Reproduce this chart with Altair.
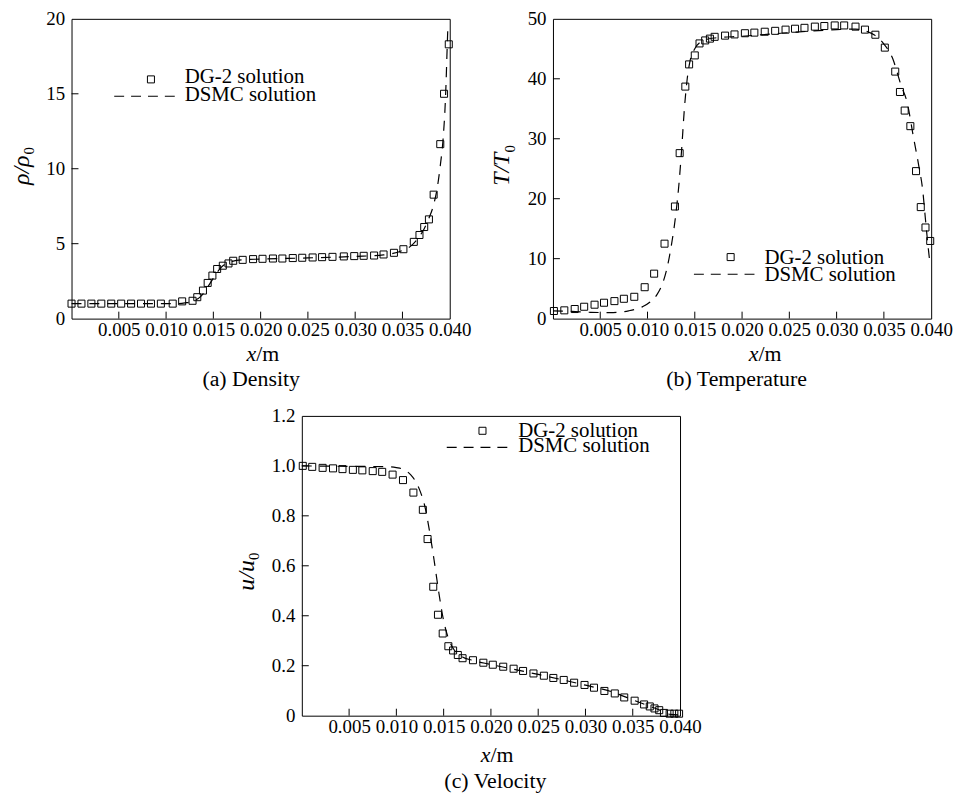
import altair as alt
import pandas as pd

FONT = "Liberation Serif"
W, H = 381, 302

X_LABELS = [0.005, 0.010, 0.015, 0.020, 0.025, 0.030, 0.035, 0.040]
X_INNER_TICKS = [0.005, 0.010, 0.015, 0.020, 0.025, 0.030, 0.035]

# ---- (a) Density ----
DG_A_X = [0.0, 0.00105, 0.0021, 0.00315, 0.0042, 0.00525, 0.0063, 0.00735, 0.0084, 0.00945,
          0.0107, 0.0117, 0.0128, 0.0133, 0.0139, 0.0144, 0.0149, 0.0154, 0.0160, 0.0166,
          0.0171, 0.0181, 0.0192, 0.0202, 0.0213, 0.0223, 0.0234, 0.0244, 0.0255, 0.0265,
          0.0276, 0.0288, 0.0299, 0.0309, 0.0320, 0.0330, 0.0341, 0.0351, 0.0362, 0.0368,
          0.0373, 0.0378, 0.0383, 0.0390, 0.0394, 0.0399]
DG_A_Y = [1.0, 1.0, 1.0, 1.0, 1.0, 1.0, 1.0, 1.0, 1.0, 1.0,
          1.0, 1.15, 1.19, 1.43, 1.87, 2.38, 2.87, 3.31, 3.53, 3.68,
          3.86, 3.92, 3.97, 3.99, 4.01, 4.01, 4.04, 4.06, 4.08, 4.10,
          4.12, 4.15, 4.17, 4.19, 4.21, 4.28, 4.39, 4.63, 5.12, 5.58,
          6.11, 6.62, 8.27, 11.64, 15.0, 18.3]
DS_A_X = [0.0, 0.011, 0.012, 0.013, 0.0137, 0.0143, 0.0148, 0.0153, 0.0158, 0.0163, 0.017,
          0.018, 0.020, 0.025, 0.030, 0.033, 0.034, 0.035, 0.036, 0.0367, 0.0373, 0.0378,
          0.0383, 0.0387, 0.039, 0.0393, 0.0395, 0.0396, 0.0397, 0.0398]
DS_A_Y = [1.0, 1.0, 1.05, 1.2, 1.5, 2.0, 2.5, 3.0, 3.4, 3.65, 3.82,
          3.92, 3.97, 4.05, 4.15, 4.25, 4.35, 4.55, 4.9, 5.4, 6.0, 6.7,
          7.6, 8.8, 10.2, 12.0, 14.0, 15.5, 17.5, 19.4]

# ---- (b) Temperature ----
DG_B_X = [0.0001, 0.0012, 0.0023, 0.0033, 0.0044, 0.0054, 0.0065, 0.0075, 0.0086, 0.0097,
          0.0107, 0.0118, 0.0129, 0.0134, 0.0140, 0.0144, 0.0150, 0.0155, 0.0161, 0.0166,
          0.0171, 0.0182, 0.0192, 0.0203, 0.0213, 0.0224, 0.0235, 0.0246, 0.0256, 0.0266,
          0.0277, 0.0287, 0.0298, 0.0308, 0.0320, 0.0330, 0.0341, 0.0351, 0.0362, 0.0367,
          0.0372, 0.0378, 0.0384, 0.0389, 0.0394, 0.0399]
DG_B_Y = [1.27, 1.38, 1.6, 1.98, 2.32, 2.65, 2.92, 3.31, 3.64, 5.24,
          7.5, 12.5, 18.7, 27.6, 38.7, 42.4, 43.9, 45.9, 46.4, 46.7,
          47.0, 47.2, 47.4, 47.6, 47.7, 47.85, 48.0, 48.2, 48.35, 48.5,
          48.7, 48.8, 48.9, 48.9, 48.7, 48.2, 47.35, 45.2, 41.2, 37.8,
          34.7, 32.1, 24.6, 18.6, 15.2, 12.95]
DS_B_X = [0.0, 0.002, 0.004, 0.006, 0.008, 0.0095, 0.0103, 0.011, 0.0115, 0.012, 0.0125,
          0.013, 0.0133, 0.0136, 0.0139, 0.0142, 0.0145, 0.015, 0.0158, 0.017, 0.020,
          0.025, 0.030, 0.032, 0.033, 0.034, 0.035, 0.0359, 0.0368, 0.0375, 0.0381,
          0.0387, 0.0391, 0.0394, 0.0396, 0.0399]
DS_B_Y = [1.3, 1.2, 1.05, 1.0, 1.3, 2.0, 2.8, 4.0, 5.5, 8.0, 12.0,
          17.5, 22.0, 28.0, 35.0, 40.0, 43.0, 45.0, 46.3, 46.8, 47.1,
          47.7, 48.2, 48.3, 48.0, 47.3, 45.8, 43.5, 39.0, 35.8, 30.5,
          25.4, 21.5, 16.5, 13.2, 8.8]

# ---- (c) Velocity ----
DG_C_X = [0.0001, 0.0011, 0.0022, 0.0033, 0.0043, 0.0054, 0.0064, 0.0075, 0.0085, 0.0096,
          0.0107, 0.0118, 0.0128, 0.0133, 0.0139, 0.0144, 0.0149, 0.0155, 0.0160, 0.0165,
          0.0170, 0.0181, 0.0192, 0.0202, 0.0213, 0.0224, 0.0234, 0.0245, 0.0256, 0.0266,
          0.0277, 0.0288, 0.0299, 0.0309, 0.0320, 0.0331, 0.0341, 0.0352, 0.0362, 0.0368,
          0.0373, 0.0378, 0.0383, 0.0389, 0.0394, 0.0399]
DG_C_Y = [1.0, 0.996, 0.992, 0.99, 0.987, 0.984, 0.982, 0.979, 0.976, 0.965,
          0.943, 0.893, 0.824, 0.707, 0.516, 0.404, 0.329, 0.278, 0.261, 0.243,
          0.230, 0.222, 0.212, 0.204, 0.196, 0.188, 0.179, 0.169, 0.160, 0.151,
          0.143, 0.132, 0.123, 0.112, 0.099, 0.089, 0.073, 0.060, 0.045, 0.037,
          0.029, 0.022, 0.011, 0.008, 0.008, 0.008]
DS_C_X = [0.0, 0.005, 0.009, 0.010, 0.0108, 0.0115, 0.012, 0.0125, 0.013, 0.0135, 0.014,
          0.0145, 0.015, 0.0155, 0.016, 0.017, 0.018, 0.020, 0.025, 0.030, 0.033,
          0.035, 0.037, 0.038, 0.0385, 0.039, 0.0398]
DS_C_Y = [1.0, 0.998, 0.997, 0.993, 0.985, 0.965, 0.94, 0.90, 0.84, 0.74, 0.62,
          0.49, 0.38, 0.31, 0.27, 0.235, 0.222, 0.205, 0.165, 0.122, 0.093,
          0.063, 0.035, 0.02, 0.01, 0.005, 0.003]

LEGEND_LABELS = ["DG-2 solution", "DSMC solution"]


def txt(s, x, y, size, style="normal", align="center", angle=0):
    return alt.Chart(pd.DataFrame({"s": [s]})).mark_text(
        align=align, baseline="middle", font=FONT, fontSize=size,
        fontStyle=style, angle=angle, color="black"
    ).encode(x=alt.value(x), y=alt.value(y), text="s:N")


def panel(dg_x, dg_y, ds_x, ds_y, ymax, yvals, ylabel_expr, ymain, ypos, leg, xt, cap, caption):
    xs = alt.Scale(domain=[0, 0.04], nice=False, zero=False)
    ys = alt.Scale(domain=[0, ymax], nice=False, zero=False)
    xaxis = alt.Axis(values=X_LABELS, format=".3f", title=None, ticks=False, domain=False,
                     grid=False, labelPadding=2, labelFontSize=19, labelFont=FONT,
                     labelColor="black", labelOverlap=False, labelFlush=False)
    yaxis = alt.Axis(values=yvals, labelExpr=ylabel_expr, title=None, ticks=False, domain=False,
                     grid=False, labelPadding=7, labelFontSize=19, labelFont=FONT,
                     labelColor="black", labelOverlap=False, labelFlush=False)

    def X(f):
        return alt.X(f, type="quantitative", scale=xs, axis=xaxis)

    def Y(f):
        return alt.Y(f, type="quantitative", scale=ys, axis=yaxis)

    ds = alt.Chart(pd.DataFrame({"x": ds_x, "y": ds_y})).mark_line(
        color="black", strokeDash=[10, 8], strokeWidth=1.2, interpolate="monotone"
    ).encode(x=X("x"), y=Y("y"))
    dg = alt.Chart(pd.DataFrame({"x": dg_x, "y": dg_y})).mark_point(
        shape="square", filled=False, size=50, color="black", strokeWidth=1, opacity=1
    ).encode(x=X("x"), y=Y("y"))
    xt_rules = alt.Chart(pd.DataFrame({"v": X_INNER_TICKS})).mark_rule(
        color="black", strokeWidth=1
    ).encode(x=X("v"), y=alt.value(H), y2=alt.value(H - 7))
    yt_rules = alt.Chart(pd.DataFrame({"v": yvals[1:-1]})).mark_rule(
        color="black", strokeWidth=1
    ).encode(y=Y("v"), x=alt.value(0), x2=alt.value(7))

    # legend
    sq = alt.Chart(pd.DataFrame({"s": [0]})).mark_point(
        shape="square", filled=False, size=50, color="black", strokeWidth=1, opacity=1
    ).encode(x=alt.value(leg["sq"][0]), y=alt.value(leg["sq"][1]))
    dash = alt.Chart(pd.DataFrame({"s": [0]})).mark_rule(
        color="black", strokeDash=[10, 7], strokeWidth=1.2
    ).encode(x=alt.value(leg["dash"][0]), x2=alt.value(leg["dash"][1]), y=alt.value(leg["dash"][2]))
    t1 = txt(LEGEND_LABELS[0], leg["tx"], leg["ty"][0], 21, align="left")
    t2 = txt(LEGEND_LABELS[1], leg["tx"], leg["ty"][1], 21, align="left")

    # y title (rotated) with subscript
    ym = txt(ymain, ypos[0], ypos[1], 24, style="italic", angle=270)
    ysb = txt("0", ypos[2], ypos[3], 15, angle=270)

    # x title: italic x + /m
    xa = txt("x", xt[0] - 6, H + xt[1], 22, style="italic", align="right")
    xb = txt("/m", xt[0] - 6, H + xt[1], 22, align="left")
    cp = txt(caption, cap[0], H + cap[1], 22)

    return alt.layer(ds, dg, xt_rules, yt_rules, sq, dash, t1, t2, ym, ysb, xa, xb, cp).properties(
        width=W, height=H
    )


pa = panel(DG_A_X, DG_A_Y, DS_A_X, DS_A_Y, 20, [0, 5, 10, 15, 20],
           "format(datum.value, 'd')", "ρ/ρ", (-50, 152.5, -43, 133),
           {"sq": (80, 61), "dash": (43, 109, 78), "tx": 114, "ty": (59, 77)},
           (192, 36), (181, 61), "(a) Density")
pb = panel(DG_B_X, DG_B_Y, DS_B_X, DS_B_Y, 50, [0, 10, 20, 30, 40, 50],
           "format(datum.value, 'd')", "T/T", (-51, 151.5, -43, 131),
           {"sq": (179, 240), "dash": (142, 207, 257.3), "tx": 213, "ty": (240.7, 258.3)},
           (213, 36), (185, 61), "(b) Temperature")
pc = panel(DG_C_X, DG_C_Y, DS_C_X, DS_C_Y, 1.2, [0, 0.2, 0.4, 0.6, 0.8, 1.0, 1.2],
           "datum.value == 0 ? '0' : format(datum.value, '.1f')", "u/u", (-55, 160.7, -48, 141.5),
           {"sq": (182, 15), "dash": (146, 212, 31.7), "tx": 218, "ty": (15.7, 30.7)},
           (196, 40), (195, 66), "(c) Velocity")

spacer = alt.Chart(pd.DataFrame({"s": [0]})).mark_point(opacity=0).encode(
    x=alt.value(0), y=alt.value(0)
).properties(width=163, height=10, view=alt.ViewBackground(stroke="transparent"))

row1 = alt.hconcat(pa, pb, spacing=18)
row2 = alt.hconcat(spacer, pc, spacing=0)

chart = alt.vconcat(row1, row2, spacing=15).properties(
    padding={"left": 1, "top": -2, "right": 0, "bottom": 0},
    background="white",
).configure_view(stroke="black", strokeWidth=1).configure_axis(
    labelFont=FONT, labelFontSize=19, labelColor="black"
)

chart.save("out.html", embed_options={"renderer": "svg", "actions": False})
